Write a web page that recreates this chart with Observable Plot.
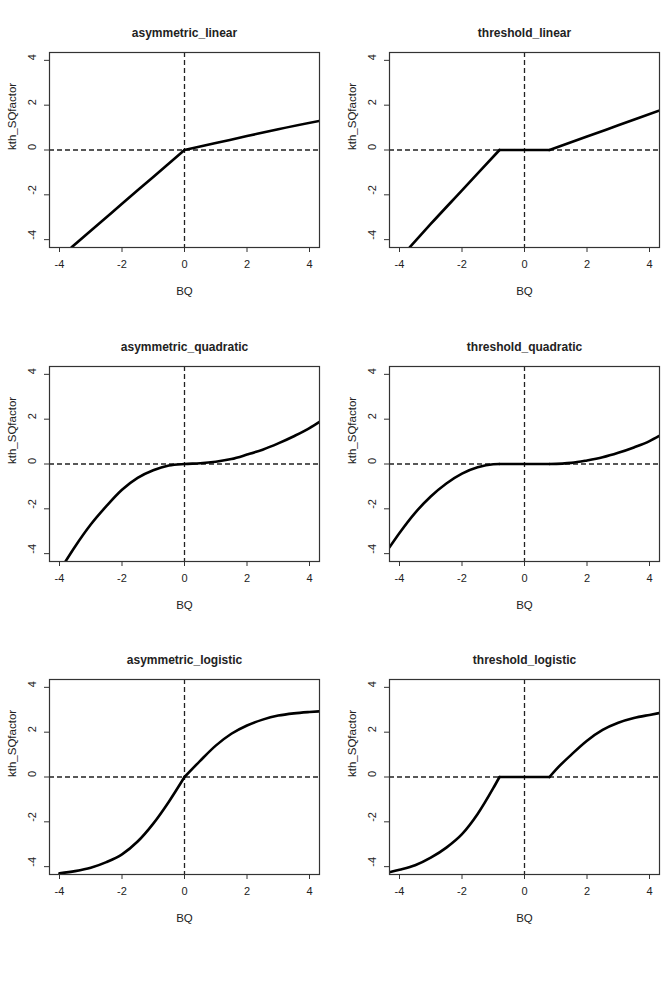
<!DOCTYPE html>
<html>
<head>
<meta charset="utf-8">
<script src="https://cdn.jsdelivr.net/npm/d3@7"></script>
<script src="https://cdn.jsdelivr.net/npm/@observablehq/plot@0.6"></script>
<style>
  body { margin: 0; background: #fff; }
  #page { position: relative; width: 666px; height: 999px; background: #fff; overflow: hidden; }
  .panel { position: absolute; }
</style>
</head>
<body>
<div id="page"></div>
<script>
// Shared axes
const xTicks = [-4, -2, 0, 2, 4];
const yTicks = [-4, -2, 0, 2, 4];
const xDomain = [-4.32, 4.32];
const yDomain = [-4.35, 4.35];
const xLabel = "BQ";
const yLabel = "kth_SQfactor";

// asymmetric_linear
const asymLinBQ = [-3.62, -3, -2, -1, 0, 1, 2, 3, 4.32];
const asymLinY  = [-4.35, -3.6, -2.4, -1.2, 0, 0.31, 0.62, 0.93, 1.3];

// threshold_linear
const thrLinBQ = [-3.68, -3, -2, -0.8, 0, 0.8, 2, 3, 4.3];
const thrLinY  = [-4.35, -3.3, -1.8, 0, 0, 0, 0.6, 1.1, 1.75];

// asymmetric_quadratic
const asymQuadBQ = [-3.8, -3.5, -3, -2.5, -2, -1.5, -1, -0.5, 0, 0.5, 1, 1.5, 2, 2.5, 3, 3.5, 4, 4.32];
const asymQuadY  = [-4.33, -3.68, -2.7, -1.88, -1.15, -0.62, -0.28, -0.07, 0, 0.03, 0.1, 0.22, 0.42, 0.64, 0.92, 1.24, 1.6, 1.88];

// threshold_quadratic
const thrQuadBQ = [-4.32, -4, -3.5, -3, -2.5, -2, -1.5, -1, -0.8, 0, 0.8, 1.5, 2, 2.5, 3, 3.5, 4, 4.31];
const thrQuadY  = [-3.72, -3.08, -2.18, -1.45, -0.87, -0.43, -0.15, -0.01, 0, 0, 0, 0.05, 0.16, 0.3, 0.5, 0.74, 1.02, 1.25];

// asymmetric_logistic
const asymLogBQ = [-4, -3.5, -3, -2.5, -2, -1.5, -1, -0.5, 0, 0.5, 1, 1.5, 2, 2.5, 3, 3.5, 4, 4.32];
const asymLogY  = [-4.3, -4.2, -4.05, -3.8, -3.45, -2.88, -2.08, -1.1, 0, 0.72, 1.4, 1.93, 2.3, 2.56, 2.74, 2.84, 2.9, 2.93];

// threshold_logistic
const thrLogBQ = [-4.33, -4, -3.5, -3, -2.5, -2, -1.5, -1, -0.8, 0, 0.8, 1, 1.5, 2, 2.5, 3, 3.5, 4, 4.31];
const thrLogY  = [-4.25, -4.14, -3.94, -3.6, -3.15, -2.55, -1.65, -0.5, 0, 0, 0, 0.32, 1.0, 1.62, 2.1, 2.42, 2.63, 2.77, 2.85];

const panels = [
  {title: "asymmetric_linear",    bq: asymLinBQ,  y: asymLinY,  breaks: [0],          left: 0,   top: 0},
  {title: "threshold_linear",     bq: thrLinBQ,   y: thrLinY,   breaks: [-0.8, 0.8],  left: 340, top: 0},
  {title: "asymmetric_quadratic", bq: asymQuadBQ, y: asymQuadY, breaks: [],           left: 0,   top: 314},
  {title: "threshold_quadratic",  bq: thrQuadBQ,  y: thrQuadY,  breaks: [-0.8, 0.8],  left: 340, top: 314},
  {title: "asymmetric_logistic",  bq: asymLogBQ,  y: asymLogY,  breaks: [0],          left: 0,   top: 627},
  {title: "threshold_logistic",   bq: thrLogBQ,   y: thrLogY,   breaks: [-0.8, 0.8],  left: 340, top: 627}
];

const ink = "#222";
const font = "'Liberation Sans', Arial, Helvetica, sans-serif";

// Split a curve into pieces at its kink points so each piece is smoothed on its own
function pieces(p) {
  const rows = [];
  p.bq.forEach((x, i) => {
    const s = p.breaks.filter(b => b < x).length;
    rows.push({x, y: p.y[i], s});
    if (p.breaks.includes(x)) rows.push({x, y: p.y[i], s: s + 1});
  });
  return rows;
}

function drawPanel(p) {
  return Plot.plot({
    width: 324,
    height: 305,
    marginLeft: 49,
    marginRight: 5,
    marginTop: 52,
    marginBottom: 58,
    style: {fontFamily: font, fontSize: "11px", color: ink, background: "white", overflow: "visible"},
    x: {domain: xDomain},
    y: {domain: yDomain},
    marks: [
      Plot.ruleX([0], {stroke: ink, strokeWidth: 1.3, strokeDasharray: "5,3"}),
      Plot.ruleY([0], {stroke: ink, strokeWidth: 1.3, strokeDasharray: "5,3"}),
      Plot.line(pieces(p), {x: "x", y: "y", z: "s", curve: "monotone-x", stroke: "#000", strokeWidth: 2.6, clip: true}),
      Plot.frame({stroke: "#333", strokeWidth: 1.2}),
      Plot.axisX({ticks: xTicks, tickSize: 5, stroke: "#333", fill: "none", label: null}),
      Plot.axisY({ticks: yTicks, tickSize: 5, stroke: "#333", fill: "none", label: null}),
      Plot.text(xTicks, {x: d => d, frameAnchor: "bottom", dy: 20, text: d => String(d), fill: ink, fontSize: 11}),
      Plot.text(yTicks, {y: d => d, frameAnchor: "left", dx: -17, rotate: -90, text: d => String(d), fill: ink, fontSize: 11}),
      Plot.text([xLabel], {frameAnchor: "bottom", dy: 47, text: d => d, fill: ink, fontSize: 11.5}),
      Plot.text([yLabel], {frameAnchor: "left", dx: -37, rotate: -90, text: d => d, fill: ink, fontSize: 11.5}),
      Plot.text([p.title], {frameAnchor: "top", dy: -24, text: d => d, fill: ink, fontSize: 12, fontWeight: "bold"})
    ]
  });
}

const page = document.getElementById("page");
for (const p of panels) {
  const div = document.createElement("div");
  div.className = "panel";
  div.style.left = p.left + "px";
  div.style.top = p.top + "px";
  div.appendChild(drawPanel(p));
  page.appendChild(div);
}
</script>
</body>
</html>
